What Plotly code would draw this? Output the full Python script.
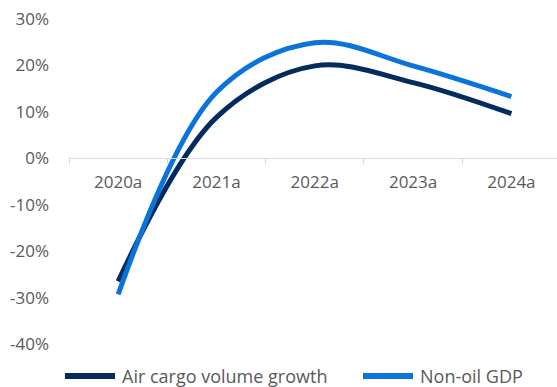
import plotly.graph_objects as go

# Annual growth rates (%)
years = ["2020a", "2021a", "2022a", "2023a", "2024a"]
air_cargo = [-26.5, 8.8, 19.9, 16.3, 9.6]
non_oil_gdp = [-29.3, 14.2, 24.9, 19.9, 13.3]

series_names = ["Air cargo volume growth", "Non-oil GDP"]
colors = ["#032B5E", "#0B74DA"]

y_ticks = [30, 20, 10, 0, -10, -20, -30, -40]
y_ticktext = [f"{v}%" for v in y_ticks]

W, H = 557, 387
M_L, M_R, M_T, M_B = 69, 0, 19, 43
Y_MIN, Y_MAX = -40, 30

fig = go.Figure()
for name, vals, col in zip(series_names, [air_cargo, non_oil_gdp], colors):
    fig.add_trace(go.Scatter(
        x=years, y=vals, name=name, mode="lines",
        line=dict(color=col, width=5, shape="spline", smoothing=1.0),
        showlegend=False,
    ))

font_color = "#595959"
fig.update_layout(
    width=W, height=H,
    margin=dict(l=M_L, r=M_R, t=M_T, b=M_B),
    paper_bgcolor="white", plot_bgcolor="white",
    font=dict(family="Open Sans, sans-serif", size=17, color=font_color),
    xaxis=dict(
        type="category", range=[-0.5, 4.464],
        anchor="free", position=(0 - Y_MIN) / (Y_MAX - Y_MIN),
        showline=True, linecolor="#D9D9D9", linewidth=1,
        ticks="outside", tickson="boundaries", ticklen=5,
        tickcolor="#D9D9D9", tickwidth=1,
        showgrid=False, zeroline=False,
        ticklabelstandoff=8,
    ),
    yaxis=dict(
        range=[Y_MIN, Y_MAX], tickvals=y_ticks, ticktext=y_ticktext,
        showgrid=False, zeroline=False, showline=False, ticks="",
        ticklabelstandoff=19,
    ),
)

# Legend drawn below the plot: line swatch followed by label
plot_w = W - M_L - M_R
plot_h = H - M_T - M_B


def px_x(px):
    return (px - M_L) / plot_w


def px_y(py):
    return (H - M_B - py) / plot_h


legend_y = 376
swatches = [(62, 118), (360, 416)]
for (x0, x1), name, col in zip(swatches, series_names, colors):
    fig.add_shape(type="line", xref="paper", yref="paper",
                  x0=px_x(x0 + 3), x1=px_x(x1 - 3), y0=px_y(legend_y), y1=px_y(legend_y),
                  line=dict(color=col, width=6))
    fig.add_annotation(xref="paper", yref="paper", x=px_x(x1 + 2), y=px_y(legend_y),
                       xanchor="left", yanchor="middle", showarrow=False,
                       text=name, font=dict(size=18, color=font_color))

fig.write_html("out.html")
